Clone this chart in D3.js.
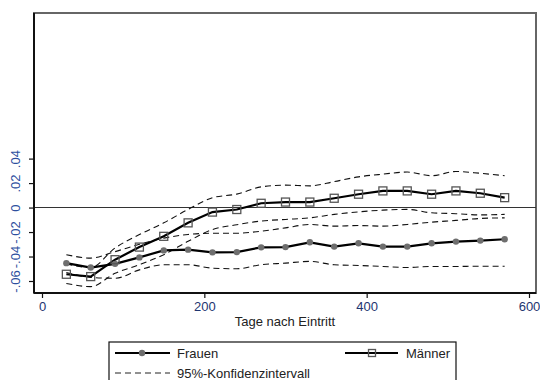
<!DOCTYPE html>
<html>
<head>
<meta charset="utf-8">
<script src="https://cdnjs.cloudflare.com/ajax/libs/d3/7.8.5/d3.min.js"></script>
<style>
  html, body { margin: 0; padding: 0; background: #fff; }
  svg { display: block; font-family: "Liberation Sans", Arial, sans-serif; }
</style>
</head>
<body>
<svg id="chart" width="540" height="380"></svg>
<script>
const days = [30,60,90,120,150,180,210,240,270,300,330,360,390,420,450,480,510,540,570];
const frauen = [-0.0454,-0.049,-0.046,-0.0407,-0.035,-0.0344,-0.0366,-0.0364,-0.0325,-0.0323,-0.0284,-0.0319,-0.0292,-0.0319,-0.0319,-0.0292,-0.0278,-0.027,-0.0259];
const maenner = [-0.0545,-0.0564,-0.0426,-0.0323,-0.0235,-0.0125,-0.0037,-0.0016,0.0035,0.0045,0.0045,0.0076,0.0109,0.0136,0.0136,0.0109,0.0136,0.0117,0.0081];
const frauenUpper = [-0.0385,-0.0413,-0.036,-0.030,-0.025,-0.022,-0.021,-0.021,-0.0193,-0.0166,-0.0138,-0.0152,-0.0147,-0.0152,-0.0138,-0.0119,-0.0105,-0.0089,-0.0084];
const frauenLower = [-0.053,-0.057,-0.0578,-0.0509,-0.0467,-0.0467,-0.0495,-0.05,-0.0467,-0.0454,-0.044,-0.0467,-0.0473,-0.0481,-0.049,-0.0481,-0.0481,-0.0479,-0.0479];
const maennerUpper = [-0.046,-0.049,-0.033,-0.022,-0.0125,-0.0015,0.008,0.011,0.0169,0.0183,0.0177,0.0212,0.0251,0.0273,0.029,0.026,0.0295,0.028,0.026];
const maennerLower = [-0.062,-0.0646,-0.0537,-0.0467,-0.0385,-0.0276,-0.018,-0.014,-0.011,-0.0097,-0.0084,-0.0056,-0.0035,-0.0021,-0.0015,-0.0043,-0.005,-0.006,-0.0056];
const xTicks = [0,200,400,600];
const yTicks = [-0.06,-0.04,-0.02,0,0.02,0.04];
const yTickLabels = ["-.06","-.04","-.02","0",".02",".04"];
const legendLabels = ["Frauen","Männer","95%-Konfidenzintervall"];
const xTitle = "Tage nach Eintritt";

const svg = d3.select("#chart");
const box = {left: 34, right: 536, top: 13, bottom: 293};
const x = d3.scaleLinear().domain([0, 600]).range([42, 529]);
const y = d3.scaleLinear().domain([-0.06, 0.04]).range([281, 158.6]);

// frame
svg.append("rect").attr("x", box.left).attr("y", box.top)
  .attr("width", box.right - box.left).attr("height", box.bottom - box.top)
  .attr("fill", "none").attr("stroke", "#666").attr("stroke-width", 2);

// zero line
svg.append("line").attr("x1", box.left).attr("x2", box.right)
  .attr("y1", y(0)).attr("y2", y(0)).attr("stroke", "#333").attr("stroke-width", 1.1);

// axes
const xAxis = d3.axisBottom(x).tickValues(xTicks).tickSize(5).tickPadding(4).tickFormat(d3.format("d"));
const gx = svg.append("g").attr("transform", `translate(0,${box.bottom})`).call(xAxis);
gx.select(".domain").attr("d", `M${box.left},0H${box.right}`).attr("stroke", "#111").attr("stroke-width", 2);
gx.selectAll(".tick line").attr("stroke", "#111").attr("stroke-width", 1.2);
gx.selectAll(".tick text").attr("font-size", 13).attr("fill", "#1e3570")
  .attr("font-family", "Liberation Sans, Arial, sans-serif");

const yAxis = d3.axisLeft(y).tickValues(yTicks).tickSize(5).tickFormat((d, i) => yTickLabels[i]);
const gy = svg.append("g").attr("transform", `translate(${box.left},0)`).call(yAxis);
gy.select(".domain").attr("d", `M0,${box.top}V${box.bottom}`).attr("stroke", "#111").attr("stroke-width", 2);
gy.selectAll(".tick line").attr("stroke", "#111").attr("stroke-width", 1.2);
gy.selectAll(".tick text")
  .attr("font-size", 13).attr("fill", "#2d4f9e")
  .attr("font-family", "Liberation Sans, Arial, sans-serif")
  .attr("x", null).attr("dy", null)
  .attr("text-anchor", "middle")
  .attr("transform", "translate(-14,0) rotate(-90)");

// x title
svg.append("text").attr("x", (box.left + box.right) / 2).attr("y", 326)
  .attr("text-anchor", "middle").attr("font-size", 13).attr("fill", "#222").text(xTitle);

// clip
svg.append("clipPath").attr("id", "clip").append("rect")
  .attr("x", box.left).attr("y", box.top).attr("width", box.right - box.left).attr("height", box.bottom - box.top);
const plot = svg.append("g").attr("clip-path", "url(#clip)");

const dashLine = d3.line().x((d, i) => x(days[i])).y(d => y(d)).curve(d3.curveMonotoneX);
[frauenUpper, frauenLower, maennerUpper, maennerLower].forEach(s => {
  plot.append("path").datum(s).attr("d", dashLine)
    .attr("fill", "none").attr("stroke", "#111").attr("stroke-width", 1.1)
    .attr("stroke-dasharray", "6,4");
});

const mainLine = d3.line().x((d, i) => x(days[i])).y(d => y(d));
plot.append("path").datum(frauen).attr("d", mainLine)
  .attr("fill", "none").attr("stroke", "#000").attr("stroke-width", 2.2);
plot.append("path").datum(maenner).attr("d", mainLine)
  .attr("fill", "none").attr("stroke", "#000").attr("stroke-width", 2.2);

plot.selectAll(".fm").data(frauen).enter().append("circle")
  .attr("cx", (d, i) => x(days[i])).attr("cy", d => y(d)).attr("r", 3.2)
  .attr("fill", "#6e6e6e");
plot.selectAll(".mm").data(maenner).enter().append("rect")
  .attr("x", (d, i) => x(days[i]) - 4).attr("y", d => y(d) - 4)
  .attr("width", 8).attr("height", 8)
  .attr("fill", "none").attr("stroke", "#555").attr("stroke-width", 1.3);

// legend
const lg = svg.append("g");
lg.append("rect").attr("x", 109).attr("y", 342).attr("width", 347).attr("height", 50)
  .attr("fill", "#fff").attr("stroke", "#111").attr("stroke-width", 1.2);
lg.append("line").attr("x1", 115).attr("x2", 170).attr("y1", 353).attr("y2", 353)
  .attr("stroke", "#000").attr("stroke-width", 2.2);
lg.append("circle").attr("cx", 142).attr("cy", 353).attr("r", 3.2).attr("fill", "#6e6e6e");
lg.append("text").attr("x", 177).attr("y", 358).attr("font-size", 13).attr("fill", "#222").text(legendLabels[0]);
lg.append("line").attr("x1", 345).attr("x2", 398).attr("y1", 353).attr("y2", 353)
  .attr("stroke", "#000").attr("stroke-width", 2.2);
lg.append("rect").attr("x", 368.5).attr("y", 349.5).attr("width", 7).attr("height", 7)
  .attr("fill", "none").attr("stroke", "#555").attr("stroke-width", 1.3);
lg.append("text").attr("x", 406).attr("y", 358).attr("font-size", 13).attr("fill", "#222").text(legendLabels[1]);
lg.append("line").attr("x1", 115).attr("x2", 170).attr("y1", 373).attr("y2", 373)
  .attr("stroke", "#222").attr("stroke-width", 1).attr("stroke-dasharray", "6,4");
lg.append("text").attr("x", 177).attr("y", 378).attr("font-size", 13).attr("fill", "#222").text(legendLabels[2]);
</script>
</body>
</html>
